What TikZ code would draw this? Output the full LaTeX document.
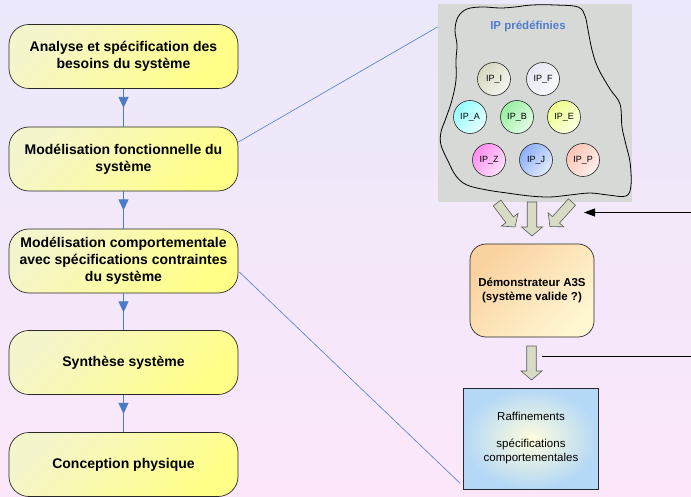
\documentclass[tikz,border=0pt]{standalone}
\usepackage{fontspec}
\setmainfont{Liberation Sans}
\usetikzlibrary{calc,arrows.meta,decorations.markings}
\definecolor{bgtop}{RGB}{234,232,250}
\definecolor{bgbot}{RGB}{252,231,250}
\definecolor{creamL}{RGB}{245,245,205}
\definecolor{yellowR}{RGB}{255,255,135}
\definecolor{peachL}{RGB}{250,210,160}
\definecolor{peachR}{RGB}{255,246,210}
\definecolor{rafin}{RGB}{255,253,222}
\definecolor{rafout}{RGB}{180,216,246}
\definecolor{poolgray}{RGB}{215,217,215}
\definecolor{linkblue}{RGB}{74,123,200}
\definecolor{titleblue}{RGB}{80,125,205}
\definecolor{arrfill}{RGB}{216,220,196}
\definecolor{edge}{RGB}{40,40,40}
\definecolor{cI}{RGB}{214,216,190}
\definecolor{cF}{RGB}{228,232,242}
\definecolor{cA}{RGB}{150,255,255}
\definecolor{cB}{RGB}{150,240,160}
\definecolor{cE}{RGB}{238,255,140}
\definecolor{cZ}{RGB}{255,140,240}
\definecolor{cJ}{RGB}{140,175,248}
\definecolor{cP}{RGB}{252,196,180}
\newcommand\blockarr[4]{%
  \begin{scope}[shift={(#1,#2)},rotate=#3]
    \draw[blockarrow] (-4.75,0) -- (-4.75,#4-9) -- (-10.5,#4-9) -- (0,#4)
      -- (10.5,#4-9) -- (4.75,#4-9) -- (4.75,0) -- cycle;
  \end{scope}}
\begin{document}
\begin{tikzpicture}[x=1pt,y=-1pt,
  stage/.style={draw=edge, line width=0.7pt, rounded corners=20pt,
    minimum width=229pt, minimum height=64pt, align=center, inner sep=2pt,
    top color=creamL, bottom color=yellowR, shading angle=45,
    font=\fontsize{14}{17}\selectfont\bfseries},
  demobox/.style={draw=edge, line width=0.7pt, rounded corners=16pt,
    minimum width=124pt, minimum height=93pt, align=center,
    top color=peachL, bottom color=peachR, shading angle=45,
    font=\fontsize{11.5}{14}\selectfont\bfseries},
  rafbox/.style={draw=edge, line width=0.7pt,
    minimum width=135pt, minimum height=101pt, align=center,
    inner color=rafin, outer color=rafout,
    font=\fontsize{11.5}{13.5}\selectfont},
  ipnode/.style={circle, draw=edge, line width=0.6pt, minimum size=33pt,
    inner sep=0pt, font=\fontsize{9}{10}\selectfont,
    top color=#1, bottom color=#1!25!white, shading angle=50},
  flowline/.style={draw=linkblue, line width=0.9pt,
    postaction={decorate},
    decoration={markings, mark=at position 19pt with
      {\arrow[linkblue]{Triangle[width=10pt,length=11pt]}}}},
  linkline/.style={draw=linkblue, line width=0.6pt},
  fbline/.style={draw=black, line width=0.8pt},
  blockarrow/.style={draw=black!65, line width=0.6pt, fill=arrfill, line join=miter}
]
% background
\shade[top color=bgtop, bottom color=bgbot] (0,0) rectangle (691,497);
\path[use as bounding box] (0,0) rectangle (691,497);

% left column
\node[stage] (b1) at (123.5,56.5) {Analyse et spécification des\\besoins du système};
\node[stage] (b2) at (123.5,159) {Modélisation fonctionnelle du\\système};
\node[stage] (b3) at (123.5,261) {Modélisation comportementale\\avec spécifications contraintes\\du système};
\node[stage] (b4) at (123.5,362.5) {Synthèse système};
\node[stage] (b5) at (123.5,464.5) {Conception physique};

\draw[flowline] (b1.south) -- (b2.north);
\draw[flowline] (b2.south) -- (b3.north);
\draw[flowline] (b3.south) -- (b4.north);
\draw[flowline] (b4.south) -- (b5.north);

% pool of IPs
\node[fill=poolgray, minimum width=194pt, minimum height=198pt, inner sep=0pt] (pool) at (535,103) {};
\draw[black, line width=0.8pt] plot[smooth cycle, tension=0.6] coordinates {
  (458,17) (467,9) (482,7) (500,8) (515,7) (532,5) (555,5) (578,7) (585,16)
  (588,30) (592,50) (598,68) (610,89) (620,104) (622,127) (626,145) (630,162)
  (631,185) (626,196) (608,195) (590,193) (570,195) (550,197) (530,196)
  (507,193) (487,190) (467,185) (456,176) (448,161) (441,145) (441,132)
  (446,118) (452,100) (456,80) (456,60) (457,45) (455,30)};
\node[text=titleblue, font=\fontsize{11.5}{13}\selectfont\bfseries] (ptitle) at (528,26) {IP prédéfinies};

\node[ipnode=cI] (ipI) at (494,79) {IP\_I};
\node[ipnode=cF] (ipF) at (543,79) {IP\_F};
\node[ipnode=cA] (ipA) at (470,117) {IP\_A};
\node[ipnode=cB] (ipB) at (517,117) {IP\_B};
\node[ipnode=cE] (ipE) at (564,117) {IP\_E};
\node[ipnode=cZ] (ipZ) at (489,160) {IP\_Z};
\node[ipnode=cJ] (ipJ) at (536,160) {IP\_J};
\node[ipnode=cP] (ipP) at (583,160) {IP\_P};

% block arrows
\blockarr{497}{203}{37}{30}
\blockarr{532}{202}{0}{34}
\blockarr{572}{202}{-42}{33}
\blockarr{531.5}{346}{0}{34}

% right side boxes
\node[demobox] (demo) at (532,290.5) {Démonstrateur A3S\\(système valide ?)};
\node[rafbox] (raf) at (531,438.5) {\raisebox{6pt}{\begin{tabular}{@{}c@{}}Raffinements\\[13.5pt]spécifications\\comportementales\end{tabular}}};

% feedback lines
\coordinate (fbin) at (691,212.5);
\coordinate (fbtip) at (584,212.5);
\coordinate (fbout) at (542,356);
\coordinate (fbend) at (691,356);
\draw[fbline, -{Triangle[width=8pt,length=11pt]}] (fbin) -- (fbtip);
\draw[fbline] (fbout) -- (fbend);

% links
\draw[linkline] ($(b2.east)+(0,-17)$) -- ($(pool.north west)+(0,23)$);
\draw[linkline] ($(b3.east)+(1,11)$) -- ($(raf.south west)+(-3,-6)$);
\end{tikzpicture}
\end{document}
